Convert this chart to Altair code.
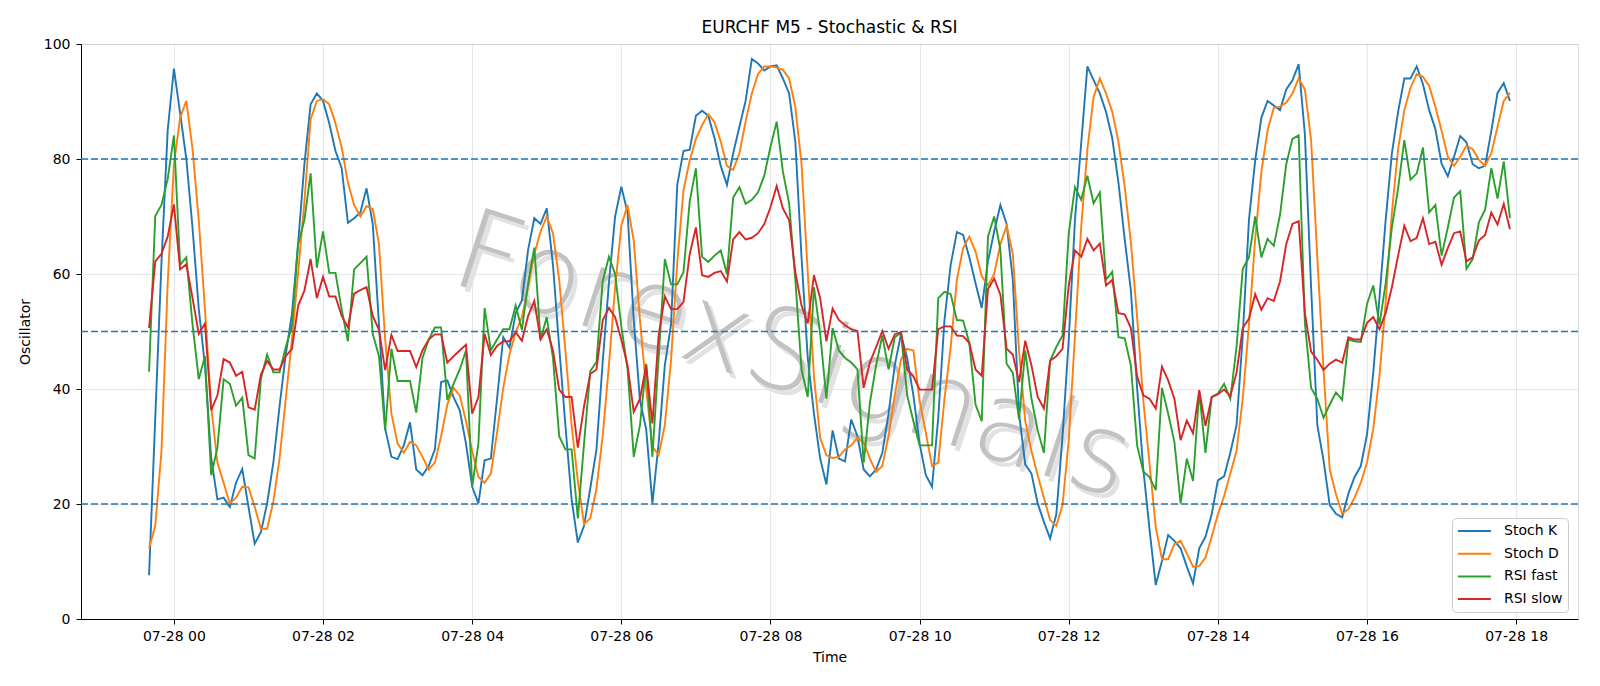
import altair as alt
import pandas as pd

# EURCHF M5 oscillators, 5-minute bars from 07-27 23:40 to 07-28 17:55
stoch_k = [
    7.6, 35, 62, 85, 95.7, 88, 80, 68, 54, 44, 28, 20.8, 21.1, 19.5, 23.7, 26.1, 19.5, 13.1, 15.1, 20.1,
    27.2, 37, 46, 53.1, 65.5, 79.1, 89.5, 91.4, 90.1, 86.2, 81.4, 78.4, 68.9, 69.7, 70.7, 74.9, 68.7, 51.2, 33.1, 28.2,
    27.8, 30.2, 34.2, 26, 25, 26.6, 29.5, 41.2, 41.5, 38.6, 36.3, 30.5, 23, 20.1, 27.6, 27.9, 38.3, 49, 47.2, 53.2,
    55.4, 64.2, 69.7, 68.7, 71.4, 61.6, 47.3, 33.7, 20.8, 13.3, 16.2, 22.7, 29.5, 44.7, 58.4, 70, 75.2, 70.7, 52, 38,
    33, 20.1, 30.5, 44.1, 51.2, 75.5, 81.4, 81.6, 87.5, 88.4, 87.5, 83.6, 78.8, 75.5, 81, 85.6, 90.1, 97.4, 96.6, 95.4,
    96.1, 96.3, 94, 91.4, 83, 62.9, 45.4, 35.7, 27.9, 23.4, 32.8, 27.9, 27.4, 34.7, 31.8, 26, 24.8, 26, 28.9, 35.7,
    44.1, 49.5, 45.4, 38.9, 30.5, 25, 23, 35, 52, 61.6, 67.3, 66.8, 62.9, 58.4, 54.1, 62.2, 67.4, 72, 68.7, 59,
    35.7, 26.9, 25.3, 20.1, 16.9, 14, 18.2, 31.8, 48.6, 69.4, 82.7, 96.1, 93.7, 91.4, 88.2, 83.6, 75.9, 66.1, 57.1, 40.2,
    26, 15.6, 5.9, 10.1, 14.6, 13.6, 12.3, 9.1, 6.2, 12.3, 14.3, 18.2, 24.1, 24.8, 28.9, 33.7, 49.3, 69.4, 79.7, 87.2,
    90.1, 89.3, 88.5, 92.1, 93.7, 96.5, 84.3, 57.7, 33.7, 27.6, 19.8, 18.3, 17.7, 21.8, 24.7, 26.6, 32.1, 42.8, 55.8, 69.4,
    81, 88.2, 94, 94, 96.1, 93, 88.5, 85.2, 79.2, 77, 80.4, 84, 82.9, 79.1, 78.4, 78.8, 84.9, 91.5, 93.2, 90.1,
]
stoch_d = [
    12.3, 16.2, 29.2, 58.4, 79, 87.2, 90.1, 81.7, 69.4, 53.8, 37, 27.2, 23.7, 20.1, 21.1, 23, 22.9, 19.5, 15.7, 15.7,
    20.4, 27.9, 38.3, 48.6, 60.3, 72.6, 86.9, 90.1, 90.4, 89.5, 86.2, 82, 75.9, 72, 70, 71.8, 71.3, 65.2, 48.6, 35.7,
    30.5, 28.9, 30.8, 30.2, 28.2, 26, 27.2, 31.8, 37.3, 40.2, 38.9, 34.4, 29.2, 24.7, 23.7, 25.3, 32.4, 40.2, 46, 49.9,
    52.5, 57.7, 63.5, 67.4, 70, 67.1, 59, 46.7, 33.7, 24, 16.5, 17.5, 22.7, 31.8, 44.1, 57.7, 68.4, 72, 65.8, 52,
    40, 30, 28.5, 33.7, 45, 62, 74.6, 79.7, 83.5, 85.9, 87.8, 86.4, 83, 78.8, 78.1, 81, 86.5, 91.4, 94.8, 96.1,
    96.1, 95.9, 95.5, 94, 89.1, 79.1, 60.3, 42.2, 31.5, 28.5, 28, 28.2, 29.5, 30.2, 31.5, 30.8, 27.9, 25.6, 26.6, 31.8,
    38.9, 45.1, 47, 46.7, 37.9, 32.4, 26.6, 27.2, 38.3, 47.3, 59, 64.5, 66.5, 63.9, 59.6, 58, 60, 65.2, 68.4, 63.5,
    46.7, 34.4, 29.2, 25, 21.1, 17.2, 16.2, 19.8, 31.1, 49.3, 68.1, 81.7, 90.8, 94, 91.4, 88.2, 83, 75.2, 65.5, 52.5,
    38, 27, 16, 10.4, 10.4, 13, 13.6, 11.4, 9.1, 9.2, 10.7, 14.3, 18.2, 21.4, 25.3, 29.2, 38.3, 51.2, 66.1, 77.8,
    85, 88.9, 89.1, 89.8, 91.4, 94, 92.1, 83.3, 62.9, 43.4, 26, 21.7, 18.3, 19.1, 21.1, 23.7, 27.2, 33.1, 42.2, 55.1,
    70.7, 81.7, 88.5, 92.4, 94.8, 94.3, 92.7, 89.1, 84.9, 80.4, 78.8, 80.4, 82.3, 81.7, 79.9, 78.8, 81, 85.6, 90.1, 91.5,
]
rsi_fast = [
    43, 70.1, 72, 76.5, 84.1, 61.6, 62.9, 51.2, 41.7, 45.7, 25, 29.8, 41.7, 40.9, 37.1, 38.5, 28.5, 27.9, 41.8, 46,
    42.9, 42.9, 47.3, 50.9, 65.2, 69.4, 77.5, 61.1, 67.4, 60.2, 60.2, 53.8, 48.3, 60.8, 61.9, 63, 49.6, 45.7, 32.8, 47,
    41.4, 41.4, 41.4, 35.9, 45.4, 48.6, 50.7, 50.7, 38.1, 40.9, 43.4, 46.7, 23, 30.5, 54.1, 46.7, 48.6, 50.4, 50.4, 54.5,
    50.3, 58.4, 64.6, 48.6, 52.5, 45.4, 31.8, 29.5, 29.5, 17.5, 30.5, 43.1, 44.7, 58.7, 63, 60, 50.9, 43.5, 28.2, 33.7,
    44.4, 28.2, 45.4, 62.6, 58.2, 58.2, 60.3, 72.6, 78.4, 63, 62.1, 63.2, 64.1, 60, 73.3, 75.1, 72.2, 72.9, 74.2, 77.1,
    82.1, 86.5, 77.8, 72.3, 59, 43.4, 38.6, 57.7, 49.6, 38.3, 50.6, 46.7, 45.4, 44.6, 43.4, 27.2, 37.6, 44.1, 49.3, 43.4,
    49, 49.8, 38.9, 34.4, 30.2, 30.2, 30.2, 55.8, 56.9, 56.5, 52, 51.9, 48, 37.3, 34.4, 66.5, 70, 64.2, 44.4, 42.8,
    34.7, 46.7, 38.3, 32.8, 28.9, 44.9, 47.3, 49.3, 67.1, 75.1, 72.9, 77.1, 72.3, 74.2, 59, 60.4, 49, 48.8, 44.1, 30.2,
    25.6, 24.7, 22.4, 40.2, 35.7, 30.8, 20.1, 27.9, 24, 39.6, 28.9, 38.6, 39.2, 40.9, 38.3, 47.3, 60.9, 62.9, 70, 62.9,
    66.1, 64.9, 70.3, 79.1, 83.5, 84.1, 51.5, 40.2, 38.3, 35, 37.3, 39.4, 38.1, 48.6, 48.3, 48.2, 54.8, 58, 51.2, 58.4,
    68.1, 74.9, 83.3, 76.4, 77.5, 82, 70.7, 72, 63.2, 68.1, 73.3, 74.4, 60.9, 62.6, 69, 71.2, 78.4, 73.1, 79.6, 69.7,
]
rsi_slow = [
    50.6, 62.2, 63.5, 66.5, 72.1, 60.8, 61.7, 55.8, 49.6, 51.4, 36.3, 38.9, 45.2, 44.6, 42.3, 43, 36.8, 36.4, 42.5, 44.9,
    43.4, 43.4, 45.7, 47, 54.5, 57.1, 62.6, 55.8, 59.5, 56.1, 56.1, 52.7, 50.7, 56.6, 57.2, 57.7, 52.7, 50.3, 43.3, 49.4,
    46.6, 46.6, 46.6, 43.8, 46.7, 48.6, 49.5, 49.5, 44.6, 45.7, 46.7, 47.7, 35.7, 38.6, 49.6, 45.9, 47.5, 48.3, 48.3, 49.9,
    48.4, 52.7, 55.3, 48.6, 50.4, 46.7, 39.9, 38.6, 38.6, 29.8, 37, 42.6, 43.4, 51.9, 54.1, 52.5, 48.6, 44.1, 36, 38.3,
    44.1, 34, 49.3, 56.1, 53.9, 53.9, 55.1, 63.4, 68.1, 59.8, 59.5, 60.2, 60.5, 58.7, 66, 67.3, 66, 66.3, 67.1, 68.7,
    71.6, 75.3, 71.4, 69.4, 60.3, 54.5, 51.4, 59.8, 55.8, 48.3, 54, 52, 51.1, 50.4, 50.1, 40.2, 44.6, 47.3, 50.1, 47,
    49.5, 49.9, 43.4, 42.2, 39.9, 39.9, 39.9, 50.4, 50.9, 50.9, 49.3, 49.2, 48, 43.4, 42.3, 57.4, 59.2, 56.4, 47, 46,
    41.2, 48.4, 44.1, 38.6, 36.6, 44.9, 45.7, 47, 58, 64.1, 63, 66.1, 64.1, 65.3, 58, 59, 53.2, 53, 50.6, 42.2,
    38.9, 38.3, 36.6, 43.9, 41.5, 38.3, 31.1, 34.5, 32.3, 39.8, 33.6, 38.6, 39.1, 39.9, 38.8, 42.8, 50.6, 52.2, 56.5, 53.8,
    55.8, 55.3, 58.7, 65.2, 68.7, 69.2, 53.2, 46.5, 45.1, 43.3, 44.4, 45.1, 44.6, 49, 48.6, 48.6, 51.5, 52.5, 50.4, 53.2,
    57.7, 63.2, 68.4, 65.7, 66.3, 69.7, 65.2, 65.6, 61.6, 64.5, 67.1, 67.4, 62.2, 62.9, 65.8, 66.8, 70.7, 68.6, 72.2, 67.8,
]

series_names = ["Stoch K", "Stoch D", "RSI fast", "RSI slow"]
series_colors = ["#1f77b4", "#ff7f0e", "#2ca02c", "#d62728"]
levels = [20, 50, 80]
tick_hours = [0, 2, 4, 6, 8, 10, 12, 14, 16, 18]
chart_title = "EURCHF M5 - Stochastic & RSI"
watermark_text = "ForexSignals"

times = pd.date_range("2024-07-27 23:40", periods=len(stoch_k), freq="5min")
frames = []
for name, vals in zip(series_names, [stoch_k, stoch_d, rsi_fast, rsi_slow]):
    frames.append(pd.DataFrame({"time": times.strftime("%Y-%m-%dT%H:%M:%S"),
                                "value": vals, "series": name}))
df = pd.concat(frames, ignore_index=True)

FONT = "DejaVu Sans"
W, H = 1497, 575

x_scale = alt.Scale(domain=[alt.DateTime(year=2024, month=7, date=27, hours=22, minutes=45, seconds=15),
                            alt.DateTime(year=2024, month=7, date=28, hours=18, minutes=49, seconds=45)])
x_axis = alt.Axis(values=[alt.DateTime(year=2024, month=7, date=28, hours=h) for h in tick_hours],
                  format="%m-%d %H", title="Time", labelFontSize=14, titleFontSize=14,
                  titleFontWeight="normal", labelFont=FONT, titleFont=FONT, labelColor="black",
                  titleColor="black", tickColor="black", domainColor="black", tickSize=5,
                  labelPadding=5, titleY=38, titleBaseline="middle", grid=True,
                  gridColor="#b0b0b0", gridOpacity=0.3, gridWidth=1.1, labelFlush=False,
                  labelOverlap=False)
y_axis = alt.Axis(values=[0, 20, 40, 60, 80, 100], title="Oscillator", labelFontSize=14,
                  titleFontSize=14, titleFontWeight="normal", labelFont=FONT, titleFont=FONT,
                  labelColor="black", titleColor="black", tickColor="black", domainColor="black",
                  tickSize=5, labelPadding=6, titleX=-56, titleBaseline="middle", grid=True,
                  gridColor="#b0b0b0", gridOpacity=0.3, gridWidth=1.1)

# legend: short row height, with a line symbol drawn wider to the right of its slot
color = alt.Color("series:N",
                  scale=alt.Scale(domain=series_names, range=series_colors),
                  legend=alt.Legend(orient="none", legendX=1371, legendY=474, title=None,
                                    symbolType="M-1,0H3.7", symbolSize=196, symbolStrokeWidth=2,
                                    symbolFillColor="transparent",
                                    labelFontSize=14, labelFont=FONT, labelColor="black",
                                    padding=5, rowPadding=7.7, labelOffset=31,
                                    strokeColor="#cccccc", fillColor="white", cornerRadius=4))

# chart heading, centred over the plot area
heading = alt.Chart(pd.DataFrame({"text": [chart_title]})).mark_text(
    fontSize=17, font=FONT, color="black", align="center", baseline="alphabetic"
).encode(text="text:N", x=alt.value(W / 2), y=alt.value(-11))

# faint diagonal watermark with a soft offset shadow
watermark_df = pd.DataFrame({"text": [watermark_text]})
shadow = alt.Chart(watermark_df).mark_text(
    fontSize=112, font=FONT, fontWeight=200, angle=18,
    color="#e2e2e2", align="center", baseline="middle"
).encode(text="text:N", x=alt.value(716), y=alt.value(319))
mark = alt.Chart(watermark_df).mark_text(
    fontSize=112, font=FONT, fontWeight=200, angle=18,
    color="#c2c2c2", align="center", baseline="middle"
).encode(text="text:N", x=alt.value(712), y=alt.value(314))

lines = []
for name in series_names:
    lines.append(
        alt.Chart(df).transform_filter(alt.datum.series == name).mark_line(strokeWidth=1.9).encode(
            x=alt.X("time:T", scale=x_scale, axis=x_axis),
            y=alt.Y("value:Q", scale=alt.Scale(domain=[0, 100], nice=False), axis=y_axis),
            color=color,
        )
    )

rules = alt.Chart(pd.DataFrame({"level": levels})).mark_rule(
    color="#1f77b4", strokeDash=[7, 3], strokeWidth=1.3
).encode(y="level:Q")

chart = alt.layer(shadow, mark, *lines, rules, heading).properties(
    width=W, height=H,
    autosize=alt.AutoSizeParams(type="none"),
    padding={"left": 81, "top": 44, "right": 22, "bottom": 67},
).configure_view(stroke="black", strokeWidth=1.1).configure(background="white")

chart.save("out.html", embed_options={"renderer": "svg", "actions": False})
